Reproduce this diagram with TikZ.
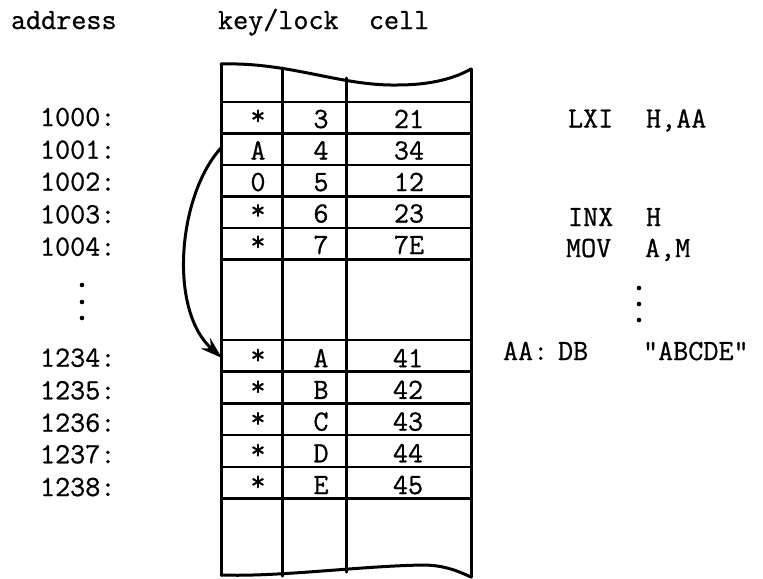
\documentclass[tikz,border=0pt]{standalone}
\usepackage{fontspec}
\setmonofont{Latin Modern Mono}[FakeBold=0.8]
\usetikzlibrary{arrows.meta}
\newcommand{\rast}{\raisebox{1.6pt}{*}}
\begin{document}
\begin{tikzpicture}[x=0.5pt,y=-0.5pt,
  tt/.style={font=\fontsize{14.65}{17}\selectfont\ttfamily, inner sep=0pt, outer sep=0pt},
  lbl/.style={tt, anchor=base west},
  cellt/.style={tt, anchor=base},
  frame/.style={line width=1.5pt, line join=round, line cap=round},
  rowrule/.style={line width=1.3pt},
  vdot/.style={fill=black}]
\useasboundingbox (0,0) rectangle (763,578);

% headers
\node[lbl] (haddr) at (11,29) {address};
\node[lbl] (hkey) at (218,29) {key/lock\ \ cell};

% table frame
\draw[frame] (221,64) .. controls (290,62) and (340,86) .. (397,85)
             .. controls (432,85) and (455,78) .. (471,69);
\draw[frame] (221,575) .. controls (280,577) and (360,566) .. (423,565)
             .. controls (445,565) and (460,572) .. (471,577);
\draw[frame] (221,64) -- (221,575);
\draw[frame] (471,69) -- (471,577);
\draw[frame] (282,68) -- (282,576);
\draw[frame] (346,78) -- (346,572);

% horizontal rules
\foreach \y in {102,133.5,165,196.5,228,259.5,340,371.7,403.4,435.1,466.8,498.5}
  \draw[rowrule] (221,\y) -- (471,\y);

% upper rows
\foreach \a/\k/\l/\c/\ab [count=\n] in {1000/\rast/3/21/126, 1001/A/4/34/158.7, 1002/0/5/12/190.7, 1003/\rast/6/23/223.3, 1004/\rast/7/7E/255.7}{
  \pgfmathsetmacro{\yb}{133.5+31.5*(\n-1)-5.5}
  \node[lbl] (a\n) at (40,\ab) {\a:};
  \node[cellt] (k\n) at (258,\yb) {\k};
  \node[cellt] (l\n) at (321,\yb) {\l};
  \node[cellt] (c\n) at (409,\yb) {\c};
}
% lower rows
\foreach \a/\k/\l/\c/\ab [count=\n from 6] in {1234/\rast/A/41/366.7, 1235/\rast/B/42/399.3, 1236/\rast/C/43/431.7, 1237/\rast/D/44/463.3, 1238/\rast/E/45/496}{
  \pgfmathsetmacro{\yb}{371.7+31.7*(\n-6)-4.5}
  \node[lbl] (a\n) at (40,\ab) {\a:};
  \node[cellt] (k\n) at (258,\yb) {\k};
  \node[cellt] (l\n) at (321,\yb) {\l};
  \node[cellt] (c\n) at (408,\yb) {\c};
}

% vertical ellipses
\foreach \y in {285,302,318} \fill[vdot] (82,\y) circle (2.3);
\foreach \y in {288,304,320} \fill[vdot] (639,\y) circle (2.3);

% assembly listing
\node[lbl] (op1) at (568,127.5) {LXI};
\node[lbl] (ar1) at (646,127.5) {H,AA};
\node[lbl] (op2) at (568,226) {INX};
\node[lbl] (ar2) at (646,226) {H};
\node[lbl] (op3) at (566,257) {MOV};
\node[lbl] (ar3) at (645,257) {A,M};
\node[lbl] (lab4) at (503,360) {AA:};
\node[lbl] (op4) at (558,360) {DB};
\node[lbl] (ar4) at (643,360) {"ABCDE"};

% pointer arrow
\coordinate (src) at (221,148);
\coordinate (dst) at (222,358);
\draw[frame, -{Stealth[length=11pt,width=7pt]}] (src) .. controls (178,195) and (168,310) .. (dst);
\end{tikzpicture}
\end{document}
